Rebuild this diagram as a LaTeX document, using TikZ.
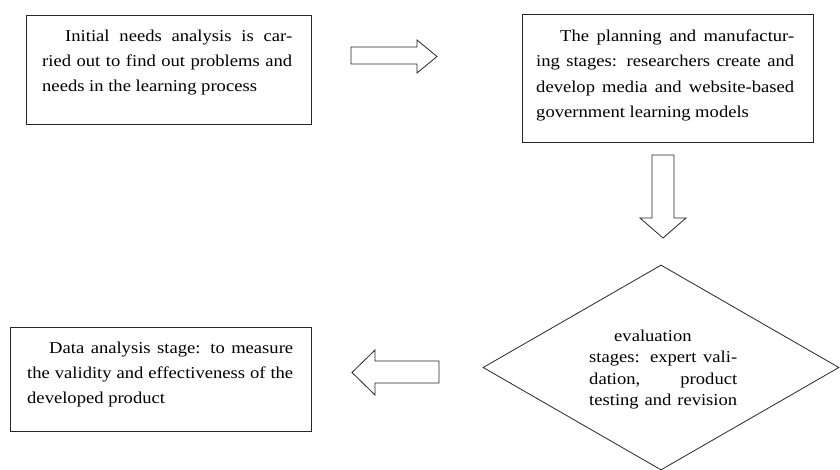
\documentclass[tikz,border=0pt]{standalone}
\usepackage{fontspec}
\setmainfont{Liberation Serif}[FakeStretch=1.12]
\usetikzlibrary{shapes.geometric}
\newcommand\jl[1]{\hbox to\hsize{#1}}
\newcommand\nl[1]{\hbox{#1}}
\tikzset{
  boxst/.style={draw=black!85, line width=0.8pt, rectangle, inner sep=0pt},
  dmst/.style={draw=black!85, line width=0.8pt, diamond, inner sep=0pt},
  txt/.style={anchor=base west, inner sep=0pt, font=\fontsize{16.6}{24}\selectfont},
  barrow/.style={draw=black!85, line width=0.8pt, line join=miter, fill=white}
}
\begin{document}
\begin{tikzpicture}[x=1pt,y=-1pt]
\useasboundingbox (0,0) rectangle (840,470);
% boxes
\node[boxst, minimum width=285pt, minimum height=109pt] (b1) at (168.5,69.5) {};
\node[boxst, minimum width=291pt, minimum height=128pt] (b2) at (667.5,78) {};
\node[dmst, minimum width=356pt, minimum height=205pt] (d) at (661,367.5) {};
\node[boxst, minimum width=301pt, minimum height=104pt] (b4) at (160.5,379) {};
% texts
\node[txt] (t1) at (42,42) {\vtop{\hsize=250pt\baselineskip=25pt
  \jl{\hskip23pt Initial needs analysis is car-}
  \jl{ried out to find out problems and}
  \nl{needs in the learning process}}};
\node[txt] (t2) at (536,41.5) {\vtop{\hsize=258pt\baselineskip=25.3pt
  \jl{\hskip24pt The planning and manufactur-}
  \jl{ing stages: researchers create and}
  \jl{develop media and website-based}
  \nl{government learning models}}};
\node[txt] (t3) at (589,341.5) {\vtop{\hsize=148pt\baselineskip=21.3pt
  \nl{\hskip25pt evaluation}
  \jl{stages: expert vali-}
  \jl{dation, product}
  \jl{testing and revision}}};
\node[txt] (t4) at (27,353) {\vtop{\hsize=266pt\baselineskip=25pt
  \jl{\hskip22pt Data analysis stage: to measure}
  \jl{the validity and effectiveness of the}
  \nl{developed product}}};
% block arrows
\draw[barrow] (351,47) -- (417,47) -- (417,40) -- (437,56.5) -- (417,73) -- (417,64) -- (351,64) -- cycle;
\draw[barrow] (652,155) -- (674,155) -- (674,218) -- (686,218) -- (663,238) -- (640,218) -- (652,218) -- cycle;
\draw[barrow] (439,361) -- (375,361) -- (375,350) -- (352,372.5) -- (375,395) -- (375,383) -- (439,383) -- cycle;
\end{tikzpicture}
\end{document}
